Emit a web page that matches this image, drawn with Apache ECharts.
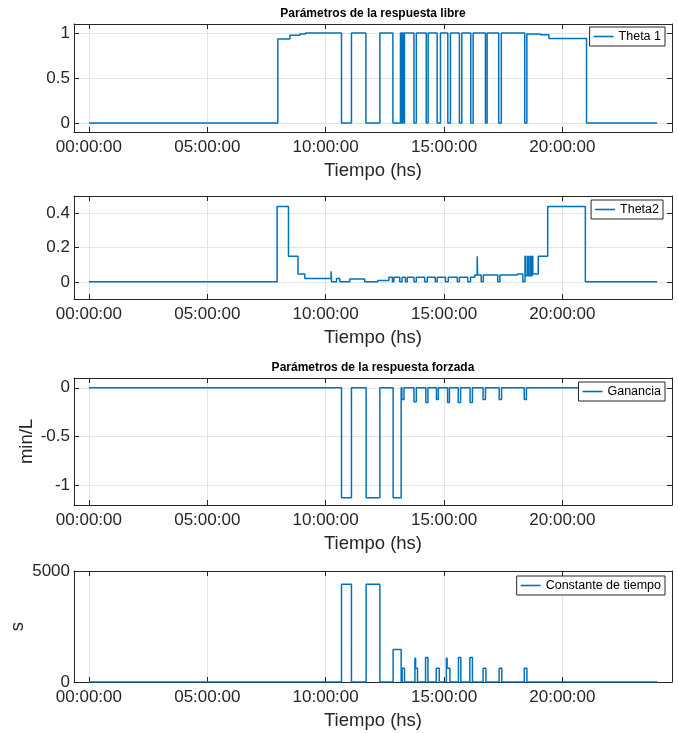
<!DOCTYPE html>
<html>
<head>
<meta charset="utf-8">
<script src="https://cdn.jsdelivr.net/npm/echarts@6/dist/echarts.min.js"></script>
<style>
html,body{margin:0;padding:0;background:#fff;}
#chart{width:678px;height:733px;}
</style>
</head>
<body>
<div id="chart"></div>
<script>
// ---- Data (hours since 00:00:00, step change points) ----
const xTickHours = [0, 5, 10, 15, 20];

const theta1Times = [0, 7.98, 8.49, 8.91, 9.15, 10.67, 11.09, 11.70, 12.29, 12.84, 13.16, 13.20, 13.24, 13.29, 13.33, 13.73, 13.83, 14.25, 14.33, 14.71, 14.85, 15.16, 15.27, 15.65, 15.75, 16.13, 16.23, 16.75, 16.82, 17.31, 17.42, 18.41, 18.50, 19.07, 19.43, 21.02, 24.0];
const theta1Values = [0, 0.933, 0.974, 0.989, 1.0, 0, 1.0, 0, 1.0, 0, 1.0, 0, 1.0, 0, 1.0, 0, 1.0, 0, 1.0, 0, 1.0, 0, 1.0, 0, 1.0, 0, 1.0, 0, 1.0, 0, 1.0, 0, 0.99, 0.98, 0.94, 0, 0];

const theta2Times = [0, 7.95, 8.43, 8.83, 9.12, 10.23, 10.25, 10.46, 10.60, 11.02, 11.65, 12.20, 12.67, 12.82, 12.88, 13.13, 13.23, 13.37, 13.45, 13.73, 13.83, 14.18, 14.29, 14.63, 14.71, 15.06, 15.18, 15.56, 15.65, 16.00, 16.12, 16.30, 16.40, 16.42, 16.57, 16.66, 17.27, 17.36, 18.10, 18.33, 18.42, 18.45, 18.53, 18.56, 18.63, 18.66, 18.72, 18.75, 18.98, 19.38, 20.97, 24.0];
const theta2Values = [0, 0.439, 0.149, 0.046, 0.019, 0.062, 0, 0.019, 0, 0.017, 0, 0.008, 0.027, 0, 0.027, 0, 0.027, 0, 0.027, 0, 0.027, 0, 0.027, 0, 0.027, 0, 0.027, 0, 0.027, 0, 0.027, 0.04, 0.149, 0.04, 0, 0.04, 0, 0.04, 0.046, 0, 0.149, 0.035, 0.149, 0.035, 0.149, 0.035, 0.149, 0.046, 0.149, 0.439, 0, 0];

const gainTimes = [0, 10.67, 11.09, 11.71, 12.29, 12.85, 13.19, 13.22, 13.31, 13.73, 13.83, 14.23, 14.32, 14.68, 14.76, 15.15, 15.23, 15.60, 15.70, 16.10, 16.20, 16.65, 16.75, 17.33, 17.43, 18.39, 18.48, 24.0];
const gainValues = [0, -1.126, 0, -1.126, 0, -1.126, 0, -0.12, 0, -0.143, 0, -0.15, 0, -0.12, 0, -0.15, 0, -0.15, 0, -0.15, 0, -0.12, 0, -0.12, 0, -0.12, 0, 0];

const tauTimes = [0, 10.67, 11.09, 11.71, 12.29, 12.85, 13.19, 13.23, 13.33, 13.77, 13.80, 13.88, 14.22, 14.32, 14.67, 14.80, 15.10, 15.13, 15.25, 15.61, 15.71, 16.09, 16.20, 16.65, 16.77, 17.33, 17.44, 18.39, 18.50, 24.0];
const tauValues = [0, 4400, 0, 4400, 0, 1460, 0, 615, 0, 1070, 615, 0, 1100, 0, 615, 0, 1070, 615, 0, 1100, 0, 1100, 0, 615, 0, 615, 0, 615, 0, 0];

const y1Ticks = [0, 0.5, 1];
const y2Ticks = [0, 0.2, 0.4];
const y3Ticks = [-1, -0.5, 0];
const y4Ticks = [0, 5000];

// ---- Layout ----
const X_MIN = -0.63, X_MAX = 24.63;
const AX = '#262626';
const GRIDC = '#e4e4e4';
const LINEC = '#0072BD';
const FONT = '"Liberation Sans", Arial, Helvetica, sans-serif';

const grids = [
  {left: 74, right: 6, top: 24, height: 108, outerBoundsMode: 'none'},
  {left: 74, right: 6, top: 196, height: 103, outerBoundsMode: 'none'},
  {left: 74, right: 6, top: 378, height: 127, outerBoundsMode: 'none'},
  {left: 74, right: 6, top: 571, height: 111, outerBoundsMode: 'none'}
];

function pad(n){ return (n < 10 ? '0' : '') + n; }

const xAxes = [], yAxes = [];
const yCfg = [
  {min: -0.1, max: 1.1, ticks: y1Ticks, name: '', gap: 0},
  {min: -0.1, max: 0.5, ticks: y2Ticks, name: '', gap: 0},
  {min: -1.2, max: 0.1, ticks: y3Ticks, name: 'min/L', gap: 38},
  {min: 0, max: 5000, ticks: y4Ticks, name: 's', gap: 47}
];
grids.forEach((g, i) => {
  xAxes.push({
    type: 'value', gridIndex: i, position: 'bottom', min: X_MIN, max: X_MAX,
    axisLine: {show: true, onZero: false, lineStyle: {color: AX, width: 1}},
    axisTick: {show: true, inside: true, length: 5, customValues: xTickHours, lineStyle: {color: AX}},
    axisLabel: {show: true, customValues: xTickHours, margin: 7, color: AX, fontSize: 17, fontFamily: FONT,
      formatter: v => pad(Math.round(v)) + ':00:00'},
    splitLine: {show: true, lineStyle: {color: GRIDC, width: 1}},
    name: 'Tiempo (hs)', nameLocation: 'middle', nameGap: 29,
    nameTextStyle: {color: AX, fontSize: 18.5, fontFamily: FONT}
  });
  xAxes.push({
    type: 'value', gridIndex: i, position: 'top', min: X_MIN, max: X_MAX,
    axisLine: {show: true, onZero: false, lineStyle: {color: AX, width: 1}},
    axisTick: {show: true, inside: true, length: 5, customValues: xTickHours, lineStyle: {color: AX}},
    axisLabel: {show: false}, splitLine: {show: false}
  });
  const c = yCfg[i];
  yAxes.push({
    type: 'value', gridIndex: i, position: 'left', min: c.min, max: c.max,
    axisLine: {show: true, onZero: false, lineStyle: {color: AX, width: 1}},
    axisTick: {show: true, inside: true, length: 5, customValues: c.ticks, lineStyle: {color: AX}},
    axisLabel: {show: true, customValues: c.ticks, margin: 4, color: AX, fontSize: 17, fontFamily: FONT,
      formatter: v => String(Math.round(v * 1000) / 1000)},
    splitLine: {show: true, lineStyle: {color: GRIDC, width: 1}},
    name: c.name, nameLocation: 'middle', nameGap: c.gap, nameRotate: 90, nameMoveOverlap: false,
    nameTextStyle: {color: AX, fontSize: 18.5, fontFamily: FONT}
  });
  yAxes.push({
    type: 'value', gridIndex: i, position: 'right', min: c.min, max: c.max,
    axisLine: {show: true, onZero: false, lineStyle: {color: AX, width: 1}},
    axisTick: {show: true, inside: true, length: 5, customValues: c.ticks, lineStyle: {color: AX}},
    axisLabel: {show: false}, splitLine: {show: false}
  });
});

function pairs(t, v){ return t.map((x, k) => [x, v[k]]); }

const seriesDefs = [
  {name: 'Theta 1', data: pairs(theta1Times, theta1Values)},
  {name: 'Theta2', data: pairs(theta2Times, theta2Values)},
  {name: 'Ganancia', data: pairs(gainTimes, gainValues)},
  {name: 'Constante de tiempo', data: pairs(tauTimes, tauValues)}
];
const series = seriesDefs.map((s, i) => ({
  type: 'line', name: s.name, data: s.data, step: 'end',
  xAxisIndex: 2 * i, yAxisIndex: 2 * i,
  symbol: 'none', animation: false,
  lineStyle: {color: LINEC, width: 1.5}, itemStyle: {color: LINEC}
}));

const legendTops = [27, 200, 382, 576];
const legendRights = [13, 15, 13, 13];
const legends = seriesDefs.map((s, i) => ({
  data: [s.name], top: legendTops[i], right: legendRights[i],
  orient: 'horizontal', backgroundColor: '#fff', borderColor: AX, borderWidth: 1, borderRadius: 0,
  padding: [2, 4, 2, 4], icon: 'rect', itemWidth: 20, itemHeight: 1.6, itemGap: 5,
  textStyle: {color: '#000', fontSize: 12.5, fontFamily: FONT, lineHeight: 15},
  selectedMode: false
}));

const chart = echarts.init(document.getElementById('chart'), null, {renderer: 'canvas'});
chart.setOption({
  backgroundColor: '#fff',
  animation: false,
  grid: grids,
  xAxis: xAxes,
  yAxis: yAxes,
  series: series,
  legend: legends,
  graphic: [
    {type: 'text', x: 373, y: 14, style: {text: 'Parámetros de la respuesta libre',
      textAlign: 'center', textVerticalAlign: 'middle', fill: '#000', font: 'bold 12px ' + FONT}},
    {type: 'text', x: 373, y: 368, style: {text: 'Parámetros de la respuesta forzada',
      textAlign: 'center', textVerticalAlign: 'middle', fill: '#000', font: 'bold 12px ' + FONT}}
  ]
});

// Keep narrow step segments (the line renderer otherwise merges sub-2px segments).
(function keepNarrowSteps(){
  const zr = chart.getZr();
  const list = zr.storage.getDisplayList(true, true);
  list.forEach(el => {
    if (el.type === 'ec-polyline' || (el.shape && el.shape.points && el.segmentIgnoreThreshold)) {
      el.segmentIgnoreThreshold = 0.01;
      if (el.path) { el.path._ux = 0; el.path._uy = 0; }
      if (el.dirtyShape) el.dirtyShape();
    }
  });
  zr.refreshImmediately();
})();
</script>
</body>
</html>
